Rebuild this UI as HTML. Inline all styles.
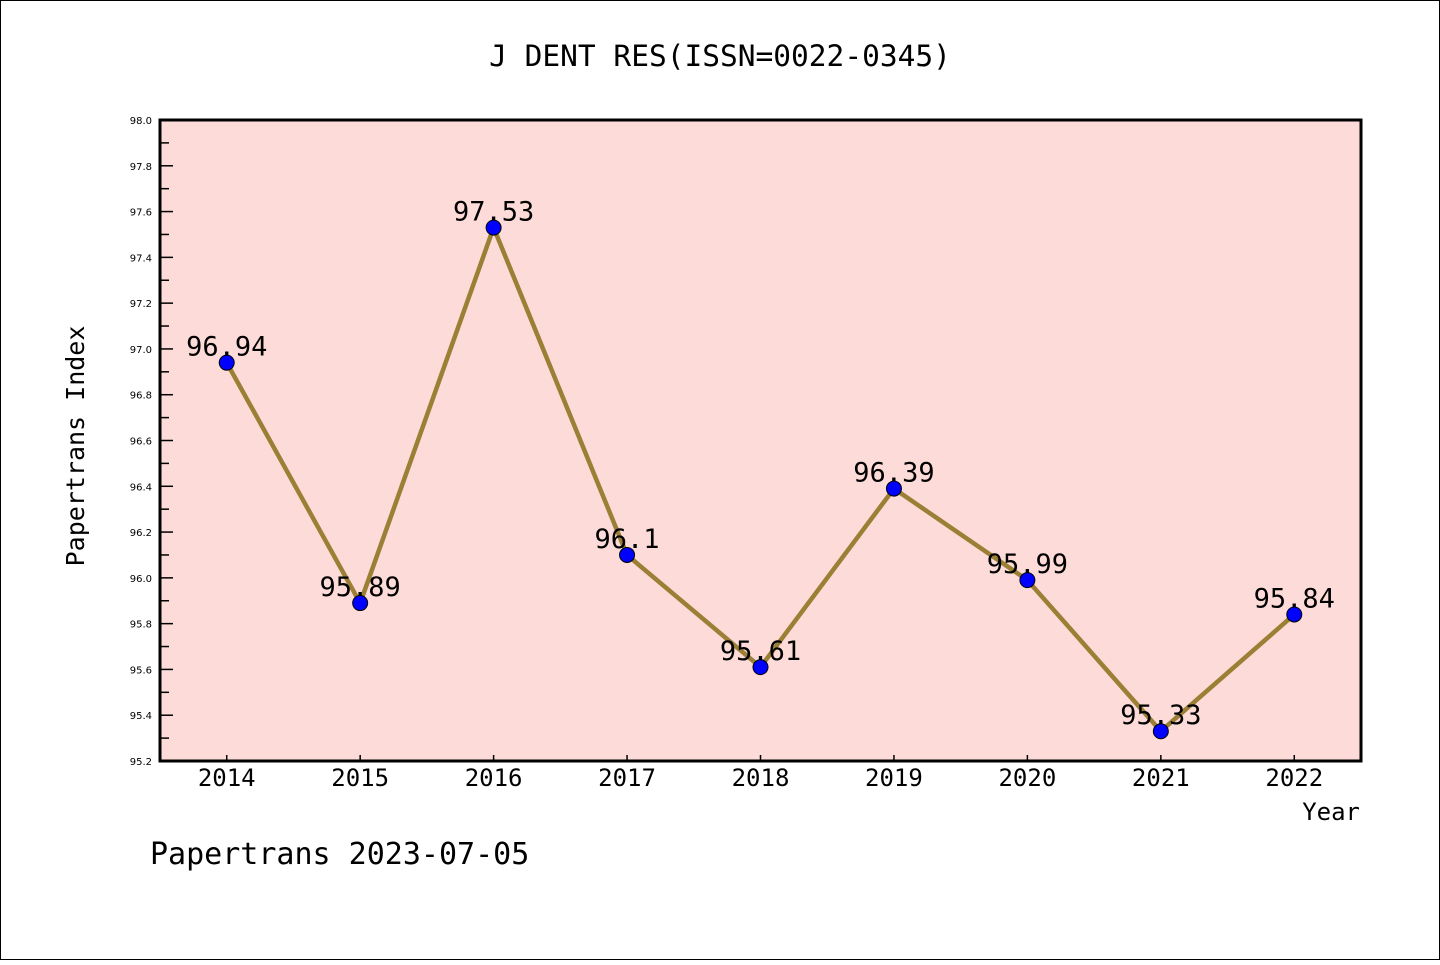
<!DOCTYPE html>
<html><head><meta charset="utf-8"><style>
body{margin:0;background:#fff}
svg text{font-family:"DejaVu Sans Mono","Liberation Mono",monospace}
svg text.yt{font-family:"DejaVu Sans",sans-serif}
</style></head><body>
<svg width="1440" height="960" xmlns="http://www.w3.org/2000/svg">
<rect x="0.5" y="0.5" width="1439" height="959" fill="#fff" stroke="#000"/>
<text x="720" y="66" font-size="29.5" text-anchor="middle">J DENT RES(ISSN=0022-0345)</text>
<rect x="160" y="120" width="1201" height="641" fill="#fddbd8"/>
<g id="ticks"></g>
<path id="line" fill="none" stroke="#9a7f35" stroke-width="4.5"/>
<g id="pts"></g>
<rect x="160" y="120" width="1201" height="641" fill="none" stroke="#000" stroke-width="3"/>
<text transform="translate(84,446) rotate(-90)" font-size="25" text-anchor="middle">Papertrans Index</text>
<text x="1360" y="820" font-size="24" text-anchor="end">Year</text>
<text x="150" y="864" font-size="30">Papertrans 2023-07-05</text>
</svg>
<script>
const categories=["2014","2015","2016","2017","2018","2019","2020","2021","2022"];
const values=[96.94,95.89,97.53,96.1,95.61,96.39,95.99,95.33,95.84];
const valueLabels=["96.94","95.89","97.53","96.1","95.61","96.39","95.99","95.33","95.84"];
const yTicks=["95.2","95.4","95.6","95.8","96.0","96.2","96.4","96.6","96.8","97.0","97.2","97.4","97.6","97.8","98.0"];
const NS="http://www.w3.org/2000/svg";
const L=160,R=1361,T=120,B=761,ymin=95.2,ymax=98.0;
const step=(R-L)/categories.length;
const xs=i=>L+step*(i+0.5);
const ys=v=>B-(v-ymin)/(ymax-ymin)*(B-T);
function mk(tag,at,parent){const e=document.createElementNS(NS,tag);for(const k in at)e.setAttribute(k,at[k]);parent.appendChild(e);return e;}
const tk=document.getElementById('ticks');
yTicks.forEach((t,i)=>{const v=parseFloat(t);const y=ys(v);
 const l=mk('line',{x1:L,x2:L+13,y1:y,y2:y,stroke:'#000','stroke-width':1.5},tk);
 
 
 const tx=mk('text',{x:L-8,y:y+4,'font-size':10,'text-anchor':'end','class':'yt'},tk);tx.textContent=t;
 
 
 if(i<yTicks.length-1){const ym=ys(v+0.1);
  const m=mk('line',{x1:L,x2:L+9,y1:ym,y2:ym,stroke:'#000','stroke-width':1.5},tk);
  
  }
});
categories.forEach((c,i)=>{const x=xs(i);
 const l=mk('line',{x1:x,x2:x,y1:B,y2:B-6,stroke:'#000','stroke-width':1.5},tk);
 
 
 const t=mk('text',{x:x,y:B+25,'font-size':24,'text-anchor':'middle'},tk);t.textContent=c;
 
 
});
document.getElementById('line').setAttribute('d',values.map((v,i)=>(i?'L':'M')+xs(i)+' '+ys(v)).join(' '));
const pg=document.getElementById('pts');
values.forEach((v,i)=>{
 const c=mk('circle',{cx:xs(i),cy:ys(v),r:7.5,fill:'#0000ff',stroke:'#000','stroke-width':1},pg);
 
 
 const t=mk('text',{x:xs(i),y:ys(v)-7,'font-size':27,'text-anchor':'middle'},pg);t.textContent=valueLabels[i];
 
 
});
</script>
</body></html>
